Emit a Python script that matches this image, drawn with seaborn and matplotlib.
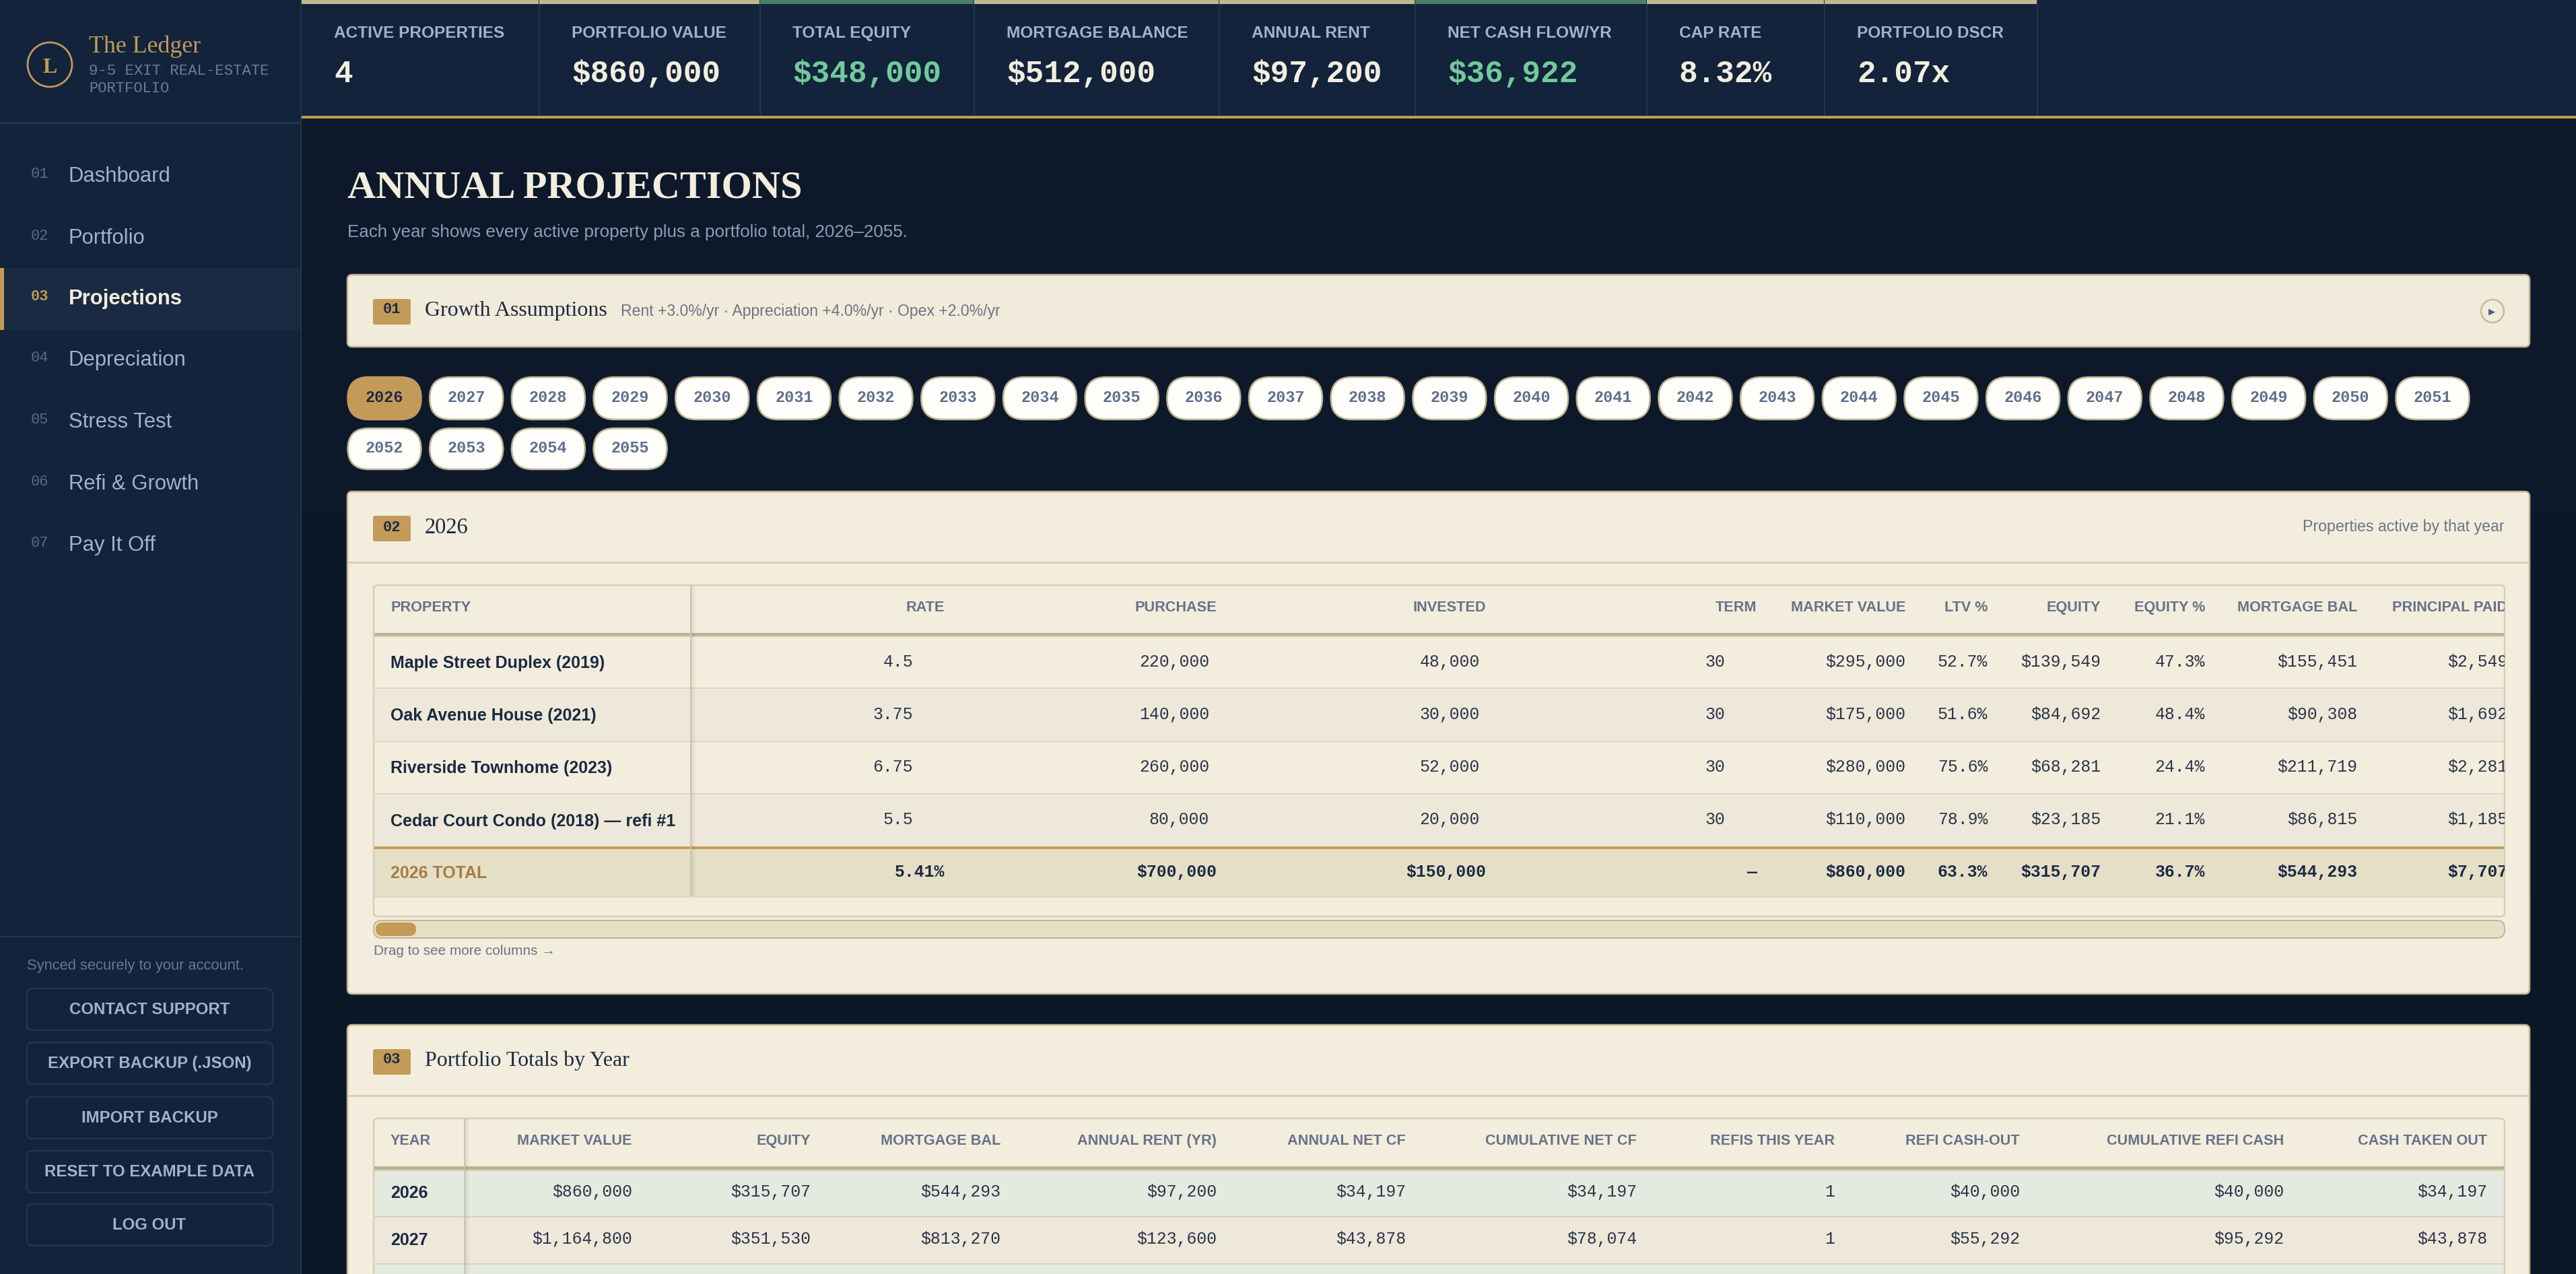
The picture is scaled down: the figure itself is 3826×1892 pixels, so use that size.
"""Annual projections page of the real-estate ledger, rebuilt with seaborn + matplotlib."""

import numpy as np
import pandas as pd
import matplotlib
matplotlib.use("Agg")
import matplotlib.pyplot as plt
from matplotlib.colors import LinearSegmentedColormap, ListedColormap
from matplotlib.patches import Circle, FancyBboxPatch, Rectangle
import seaborn as sns

# ── Data ───────────────────────────────────────────────────────────────────────
KPI_LABELS = ["ACTIVE PROPERTIES", "PORTFOLIO VALUE", "TOTAL EQUITY", "MORTGAGE BALANCE",
              "ANNUAL RENT", "NET CASH FLOW/YR", "CAP RATE", "PORTFOLIO DSCR"]
KPI_VALUES = ["4", "$860,000", "$348,000", "$512,000", "$97,200", "$36,922", "8.32%", "2.07x"]
KPI_POSITIVE = [False, False, True, False, False, True, False, False]

NAV_ITEMS = ["Dashboard", "Portfolio", "Projections", "Depreciation",
             "Stress Test", "Refi & Growth", "Pay It Off"]
SIDE_BUTTONS = ["CONTACT SUPPORT", "EXPORT BACKUP (.JSON)", "IMPORT BACKUP",
                "RESET TO EXAMPLE DATA", "LOG OUT"]
YEARS = list(range(2026, 2056))

PROP_HEADERS = ["RATE", "PURCHASE", "INVESTED", "TERM", "MARKET VALUE", "LTV %", "EQUITY",
                "EQUITY %", "MORTGAGE BAL", "PRINCIPAL PAID"]
PROP_NAMES = ["Maple Street Duplex (2019)", "Oak Avenue House (2021)",
              "Riverside Townhome (2023)", "Cedar Court Condo (2018) — refi #1"]
RATE = ["4.5", "3.75", "6.75", "5.5"]
PURCHASE = ["220,000", "140,000", "260,000", "80,000"]
INVESTED = ["48,000", "30,000", "52,000", "20,000"]
TERM = ["30", "30", "30", "30"]
MARKET_VALUE = ["$295,000", "$175,000", "$280,000", "$110,000"]
LTV = ["52.7%", "51.6%", "75.6%", "78.9%"]
EQUITY = ["$139,549", "$84,692", "$68,281", "$23,185"]
EQUITY_PCT = ["47.3%", "48.4%", "24.4%", "21.1%"]
MORTGAGE_BAL = ["$155,451", "$90,308", "$211,719", "$86,815"]
PRINCIPAL = ["$2,549", "$1,692", "$2,281", "$1,185"]
PROP_TOTALS = ["5.41%", "$700,000", "$150,000", "—", "$860,000", "63.3%", "$315,707",
               "36.7%", "$544,293", "$7,707"]

TOTAL_HEADERS = ["MARKET VALUE", "EQUITY", "MORTGAGE BAL", "ANNUAL RENT (YR)", "ANNUAL NET CF",
                 "CUMULATIVE NET CF", "REFIS THIS YEAR", "REFI CASH-OUT",
                 "CUMULATIVE REFI CASH", "CASH TAKEN OUT"]
ROW_2026 = ["$860,000", "$315,707", "$544,293", "$97,200", "$34,197", "$34,197", "1",
            "$40,000", "$40,000", "$34,197"]
ROW_2027 = ["$1,164,800", "$351,530", "$813,270", "$123,600", "$43,878", "$78,074", "1",
            "$55,292", "$95,292", "$43,878"]

# ── Layout (screen pixels) ─────────────────────────────────────────────────────
W, H = 3826, 1892
SIDE_W = 448
KPI_EDGES = [448, 801, 1129, 1447, 1811, 2102, 2446, 2710, 3026]
NAV_Y = [260, 352, 442, 533, 625, 717, 808]
BUTTON_TOPS = [1468, 1548, 1629, 1709, 1788]
PILL_PITCH = 121.68
PROP_RIGHT = [1403, 1807, 2207, 2609, 2830, 2952, 3120, 3275, 3501, 3724]
PROP_INPUT_RIGHT = [1356, 1796, 2198, 2562]
PROP_ROW_EDGES = [946, 1022, 1101, 1179, 1257]
PROP_NAME_BASE = [992, 1070, 1148, 1227]
PROP_CELL_BASE = [990, 1068, 1146, 1224]
TOTAL_RIGHT = [939, 1204, 1486, 1807, 2088, 2431, 2725, 3000, 3392, 3694]

# ── Colours ────────────────────────────────────────────────────────────────────
NAVY = "#12233b"
NAVY_LINE = "#22354f"
NAVY_ACTIVE = "#1a2a42"
CREAM = "#f3edde"
CREAM_ALT = "#ede8d9"
CREAM_TOTAL = "#e6dfc8"
SAGE = "#e4eadf"
GOLD = "#c49a58"
TAN = "#c2b591"
TAN_LIGHT = "#d6cfb9"
GREEN_BAR = "#4a7f65"
GREEN_TEXT = "#72c99a"
SOFT_BLUE = "#a3b1c9"
MUTED = "#5a6a85"
INK = "#1b2a41"
CELL_INK = "#2b3549"
HEAD_GREY = "#667289"
NOTE_GREY = "#6b7486"

SANS = "Liberation Sans"
SERIF = "Liberation Serif"
MONO = "Liberation Mono"

sns.set_theme(style="white")
plt.rcParams["font.family"] = [SANS, "DejaVu Sans"]

fig = plt.figure(figsize=(W / 100, H / 100), dpi=100)
rend = fig.canvas.get_renderer()


def pixel_axes(zorder):
    a = fig.add_axes([0, 0, 1, 1], zorder=zorder)
    a.set_xlim(0, W)
    a.set_ylim(H, 0)
    a.axis("off")
    return a


back = pixel_axes(0)
front = pixel_axes(2)


def box(a, x0, y0, x1, y1, fc, ec="none", lw=0, r=0, **kw):
    style = f"round,pad=0,rounding_size={r}" if r else "square,pad=0"
    a.add_patch(FancyBboxPatch((x0, y0), x1 - x0, y1 - y0, boxstyle=style, fc=fc, ec=ec,
                               lw=lw * 0.72, **kw))


def put(x, y, s, px, color=INK, fam=SANS, weight="normal", ha="left", width=None, clip=None):
    # y is the text baseline; width squeezes the size so the string spans that many pixels
    t = front.text(x, y, s, fontsize=px * 0.72, color=color, ha=ha, va="baseline",
                   family=[fam, "DejaVu Sans"], weight=weight)
    if width:
        t.set_fontsize(t.get_fontsize() * width / t.get_window_extent(rend).width)
    if clip is not None:
        t.set_clip_path(clip)
        t.set_clip_on(True)
    return t


def hline(y0, y1, x0, x1, color):
    front.add_patch(Rectangle((x0, y0), x1 - x0, y1 - y0, fc=color, ec="none"))


def sticky_edge(x, y0, y1):
    # soft shadow to the right of the frozen first column
    hline(y0, y1, x - 1, x + 1, "#cbc4ae")
    for k, alpha in enumerate([0.10, 0.06, 0.03]):
        front.add_patch(Rectangle((x + 1 + k * 2, y0), 2, y1 - y0, fc="#3a3320", ec="none",
                                  alpha=alpha))


def stripes(x0, y0, x1, y1, colors, n_rows):
    # zebra rows of a table body as a one-column heatmap
    a = fig.add_axes([x0 / W, 1 - y1 / H, (x1 - x0) / W, (y1 - y0) / H], zorder=1)
    codes = pd.DataFrame({"row": [i % len(colors) for i in range(n_rows)]})
    sns.heatmap(codes, ax=a, cmap=ListedColormap(colors), vmin=0, vmax=len(colors) - 1,
                cbar=False, xticklabels=False, yticklabels=False, linewidths=0)
    a.set_xlabel("")
    a.set_ylabel("")
    return a


def section_head(top, num, title, base, num_base, title_width):
    box(front, 554, top, 610, top + 38, GOLD, r=3)
    put(582, num_base, num, 22, color=INK, fam=MONO, weight="bold", ha="center")
    put(631, base, title, 34, color=INK, fam=SERIF, width=title_width)


# ── Page background ────────────────────────────────────────────────────────────
grad = LinearSegmentedColormap.from_list("page", ["#0e1a2c", "#0a1726"])
back.imshow(np.linspace(0, 1, 64).reshape(-1, 1), cmap=grad, aspect="auto",
            extent=(SIDE_W, W, H, 176), zorder=0)
back.set_xlim(0, W)
back.set_ylim(H, 0)

# ── Sidebar ────────────────────────────────────────────────────────────────────
box(back, 0, 0, SIDE_W, H, NAVY, zorder=1)
hline(0, H, SIDE_W - 2, SIDE_W, NAVY_LINE)
hline(181, 184, 0, SIDE_W, NAVY_LINE)
hline(1390, 1392, 0, SIDE_W, NAVY_LINE)

front.add_patch(Circle((74, 96), 33, fc="none", ec=GOLD, lw=2.0))
put(74, 108, "L", 32, color=GOLD, fam=SERIF, weight="bold", ha="center")
put(132, 78, "The Ledger", 38, color=GOLD, fam=SERIF, width=167)
put(132, 111, "9-5 EXIT REAL-ESTATE", 20, color="#6d7c96", fam=MONO, width=268)
put(132, 137, "PORTFOLIO", 20, color="#6d7c96", fam=MONO, width=119)

box(back, 0, 398, SIDE_W - 2, 490, NAVY_ACTIVE, zorder=2)
hline(398, 490, 0, 6, GOLD)
for i, (name, y) in enumerate(zip(NAV_ITEMS, NAV_Y)):
    active = name == "Projections"
    put(46, y + 4, f"{i + 1:02d}", 22, color=GOLD if active else MUTED, fam=MONO,
        weight="bold" if active else "normal")
    put(102, y + 10, name, 31, color=CREAM if active else SOFT_BLUE,
        weight="bold" if active else "normal")

put(40, 1440, "Synced securely to your account.", 23, color="#66769a", width=323)
for label, top in zip(SIDE_BUTTONS, BUTTON_TOPS):
    box(front, 40, top, 405, top + 62, "none", ec=NAVY_LINE, lw=2.5, r=8)
    put(222, top + 38, label, 24, color=SOFT_BLUE, weight="bold", ha="center")

# ── KPI strip ──────────────────────────────────────────────────────────────────
box(back, SIDE_W, 0, W, 172, NAVY, zorder=1)
hline(172, 176, SIDE_W, W, GOLD)
for i, (label, value, up) in enumerate(zip(KPI_LABELS, KPI_VALUES, KPI_POSITIVE)):
    x0, x1 = KPI_EDGES[i], KPI_EDGES[i + 1]
    hline(0, 6, x0, x1 - 1, GREEN_BAR if up else TAN)
    hline(0, 172, x1 - 1, x1 + 1, NAVY_LINE)
    put(x0 + 48, 56, label, 24.4, color=SOFT_BLUE, weight="bold")
    put(x0 + 48, 122, value, 46, color=GREEN_TEXT if up else CREAM, fam=MONO, weight="bold")

# ── Page heading ───────────────────────────────────────────────────────────────
put(516, 293, "ANNUAL PROJECTIONS", 58, color=CREAM, fam=SERIF, weight="bold", width=676)
put(516, 352, "Each year shows every active property plus a portfolio total, 2026–2055.",
    27, color="#8e9cb3", width=830)

# ── Growth assumptions card ────────────────────────────────────────────────────
box(back, 516, 408, 3757, 515, "#f1ebdb", ec=TAN, lw=2.5, r=7, zorder=3)
section_head(444, "01", "Growth Assumptions", 469, 465, 271)
put(922, 469, "Rent +3.0%/yr · Appreciation +4.0%/yr · Opex +2.0%/yr", 26, color=NOTE_GREY,
    width=564)
front.add_patch(Circle((3702, 462), 17, fc="none", ec=TAN, lw=1.6))
put(3701, 466, "▶", 13, color="#4f6080", ha="center", fam="DejaVu Sans")

# ── Year pills ─────────────────────────────────────────────────────────────────
for i, year in enumerate(YEARS):
    row = 0 if i < 26 else 1
    x0 = 516.5 + (i - 26 * row) * PILL_PITCH
    y0, y1, base = (560, 623, 597) if row == 0 else (636, 697, 672)
    active = year == 2026
    box(back, x0, y0, x0 + 109, y1, GOLD if active else "#fffefa",
        ec=GOLD if active else "#bdb28f", lw=2.5, r=31, zorder=3)
    put(x0 + 54.5, base, str(year), 23.5, color=INK if active else "#5d6f8e", fam=MONO,
        weight="bold", ha="center")

# ── Card 02: single-year table ─────────────────────────────────────────────────
box(back, 516, 730, 3757, 1476, CREAM, ec=TAN, lw=2.5, r=7, zorder=3)
section_head(766, "02", "2026", 792, 789, 65)
put(3720, 789, "Properties active by that year", 25, color=NOTE_GREY, ha="right", width=299)
hline(834, 837, 517, 3756, TAN_LIGHT)

stripes(555, PROP_ROW_EDGES[0], 3720, PROP_ROW_EDGES[-1], [CREAM, CREAM_ALT], len(PROP_NAMES))
hline(1261, 1331, 556, 3719, CREAM_TOTAL)
box(front, 555, 869, 3720, 1361, "none", ec=TAN_LIGHT, lw=2.5, r=6)
hline(940, 944, 556, 3719, "#bdb28f")
hline(944, 946, 556, 3719, TAN_LIGHT)
for y in PROP_ROW_EDGES[1:-1]:
    hline(y - 1, y + 1, 556, 3719, "#ddd6c1")
hline(1257, 1261, 556, 3719, GOLD)
hline(1331, 1333, 556, 3719, "#ddd6c1")
sticky_edge(1026, 869, 1331)

prop_clip = Rectangle((555, 869), 3165, 492, transform=front.transData)
put(580, 908, "PROPERTY", 21.6, color=HEAD_GREY, weight="bold")
for header, right in zip(PROP_HEADERS, PROP_RIGHT):
    put(right, 908, header, 21.6, color=HEAD_GREY, weight="bold", ha="right", clip=prop_clip)

prop_columns = [RATE, PURCHASE, INVESTED, TERM, MARKET_VALUE, LTV, EQUITY, EQUITY_PCT,
                MORTGAGE_BAL, PRINCIPAL]
for c, column in enumerate(prop_columns):
    right = PROP_INPUT_RIGHT[c] if c < len(PROP_INPUT_RIGHT) else PROP_RIGHT[c]
    for r, cell in enumerate(column):
        put(right, PROP_CELL_BASE[r], cell, 24.7, color=CELL_INK, fam=MONO, ha="right",
            clip=prop_clip)
    put(PROP_RIGHT[c], 1302, PROP_TOTALS[c], 24.7, color=INK, fam=MONO, weight="bold",
        ha="right", clip=prop_clip)
for name, base in zip(PROP_NAMES, PROP_NAME_BASE):
    put(580, base, name, 25, color=INK, weight="bold")
put(580, 1304, "2026 TOTAL", 25, color="#a57f3e", weight="bold")

box(front, 555, 1367, 3720, 1393, CREAM_TOTAL, ec=TAN, lw=2, r=12)
box(front, 558, 1370, 618, 1390, GOLD, r=10)
put(555, 1418, "Drag to see more columns →", 22, color=NOTE_GREY, width=269)

# ── Card 03: portfolio totals ──────────────────────────────────────────────────
box(back, 516, 1522, 3757, 1980, CREAM, ec=TAN, lw=2.5, r=7, zorder=3)
section_head(1558, "03", "Portfolio Totals by Year", 1583, 1579, 304)
hline(1626, 1629, 517, 3756, TAN_LIGHT)

stripes(555, 1738, 3720, 1948, [SAGE, CREAM_ALT], 3)
box(front, 555, 1661, 3720, 1960, "none", ec=TAN_LIGHT, lw=2.5, r=6)
hline(1732, 1737, 556, 3719, "#bdb28f")
hline(1737, 1739, 556, 3719, TAN_LIGHT)
hline(1806, 1808, 556, 3719, "#d9d2bb")
hline(1876, 1878, 556, 3719, "#d9d2bb")
sticky_edge(690, 1661, H)

put(580, 1700, "YEAR", 21.6, color=HEAD_GREY, weight="bold")
for i, (header, right) in enumerate(zip(TOTAL_HEADERS, TOTAL_RIGHT)):
    put(right, 1700, header, 21.6, color=HEAD_GREY, weight="bold", ha="right")
    put(right, 1777, ROW_2026[i], 24.7, color=CELL_INK, fam=MONO, ha="right")
    put(right, 1847, ROW_2027[i], 24.7, color=CELL_INK, fam=MONO, ha="right")
put(580, 1779, "2026", 25, color=INK, weight="bold")
put(580, 1849, "2027", 25, color=INK, weight="bold")

fig.savefig("out.png", dpi=100)
